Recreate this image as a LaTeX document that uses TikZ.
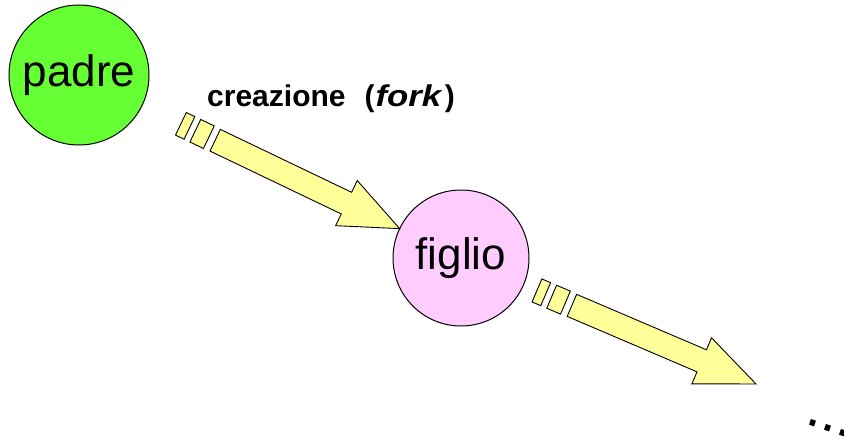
\documentclass[tikz,border=0pt]{standalone}
\usepackage{fontspec}
\usepackage{graphicx}
\setmainfont{Liberation Sans}
\usetikzlibrary{calc}
\definecolor{padrefill}{HTML}{66FF33}
\definecolor{figliofill}{HTML}{FFCCFF}
\definecolor{arrowfill}{HTML}{FFFF99}
\tikzset{
  proc/.style={circle, draw=black, line width=1pt, inner sep=0pt,
    font=\fontsize{44}{52}\selectfont},
  fatarrow/.style={draw=black, fill=arrowfill, line width=0.9pt, line join=miter},
  forklabel/.style={anchor=base west, inner sep=0pt,
    font=\bfseries\fontsize{30}{36}\selectfont},
}
% Striped block arrow (two short stripes, a shaft and a wide head) from #1 to #2
\newcommand\stripedarrow[2]{%
  \path[fatarrow] let \p1=(#1), \p2=(#2),
      \n1={atan2(\y2-\y1,\x2-\x1)}, \n2={veclen(\x2-\x1,\y2-\y1)},
      \n3={\n2-59} in
    [shift={(\p1)}, rotate=\n1]
    (0pt,-12.5pt) -- (9.5pt,-12.5pt) -- (9.5pt,12.5pt) -- (0pt,12.5pt) -- cycle
    (16pt,-12.5pt) -- (31pt,-12.5pt) -- (31pt,12.5pt) -- (16pt,12.5pt) -- cycle
    (38pt,-12pt) -- ({\n3*1pt},-12pt) -- ({\n3*1pt},-25pt) -- ({\n2*1pt},0pt)
      -- ({\n3*1pt},25pt) -- ({\n3*1pt},12pt) -- (38pt,12pt) -- cycle;
}
\begin{document}
\begin{tikzpicture}[x=1pt,y=-1pt]
\useasboundingbox (0,0) rectangle (844,439);

% processes
\node[proc, fill=padrefill, minimum size=140pt] (padre) at (79,75) {padre};
\node[proc, fill=figliofill, minimum size=136pt] (figlio) at (461,258) {figlio};
\coordinate (next) at (756,384);

% fork arrows
\stripedarrow{$(padre.center)!113pt!(figlio.center)$}{$(figlio.center)!68pt!(padre.center)$}
\stripedarrow{$(figlio.center)!82.6pt!(next)$}{next}

\node[forklabel] (fork) at (207,106)
  {creazione\hspace{19pt}(\hspace{1pt}\scalebox{1.16}[1]{\textit{fork}}\hspace{2pt})};

% continuation dots
\node[anchor=base west, inner sep=0pt, rotate=-19,
  font=\fontsize{57}{60}\selectfont] (more) at (804,423.5) {...};
\end{tikzpicture}
\end{document}
